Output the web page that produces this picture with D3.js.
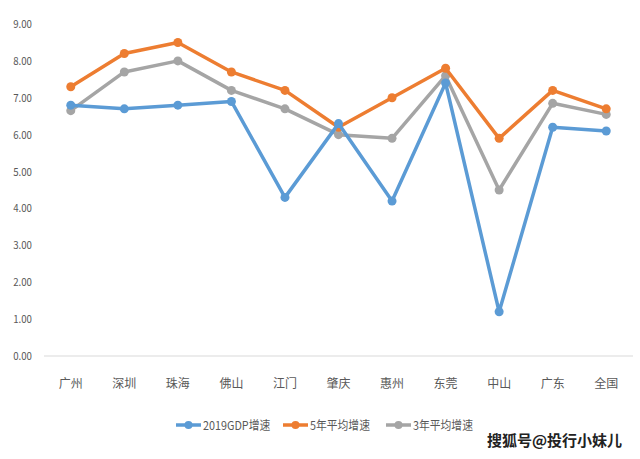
<html>
<head>
<style>
  body { margin: 0; background: #fff; }
  text { font-family: "Noto Sans CJK SC", "Liberation Sans", sans-serif; }
</style>
</head>
<body>
<script src="https://d3js.org/d3.v7.min.js"></script>
<script>
// categories and series
var cities = ["广州","深圳","珠海","佛山","江门","肇庆","惠州","东莞","中山","广东","全国"];
var gdp2019 = [6.8, 6.7, 6.8, 6.9, 4.3, 6.3, 4.2, 7.4, 1.2, 6.2, 6.1];
var avg5 = [7.3, 8.2, 8.5, 7.7, 7.2, 6.2, 7.0, 7.8, 5.9, 7.2, 6.7];
var avg3 = [6.65, 7.7, 8.0, 7.2, 6.7, 6.0, 5.9, 7.6, 4.5, 6.85, 6.55];
var seriesNames = ["2019GDP增速", "5年平均增速", "3年平均增速"];
var yTicks = [0, 1, 2, 3, 4, 5, 6, 7, 8, 9];

var width = 640, height = 459;
var colors = ["#5B9BD5", "#ED7D31", "#A5A5A5"];

var svg = d3.select("body").append("svg")
  .attr("width", width).attr("height", height);

// scales
var x = d3.scalePoint().domain(cities).range([44, 633]).padding(0.5);
var y = d3.scaleLinear().domain([0, 9]).range([356, 24]);

// y tick labels (no axis line)
svg.selectAll(".ytick").data(yTicks).enter()
  .append("text")
  .attr("x", 32)
  .attr("y", function(d){ return y(d) + 4; })
  .attr("text-anchor", "end")
  .attr("fill", "#595959")
  .style("font-size", "11px")
  .attr("transform", function(d){ return "translate(" + (32*0.12) + ",0) scale(0.88,1)"; })
  .text(function(d){ return d.toFixed(2); });

// baseline
svg.append("line")
  .attr("x1", 44).attr("x2", 633)
  .attr("y1", y(0)).attr("y2", y(0))
  .attr("stroke", "#d9d9d9").attr("stroke-width", 1.2);

// category labels
svg.selectAll(".xtick").data(cities).enter()
  .append("text")
  .attr("x", function(d){ return x(d); })
  .attr("y", 388)
  .attr("text-anchor", "middle")
  .attr("fill", "#595959")
  .style("font-size", "12px")
  .text(function(d){ return d; });

// lines, gray first so blue is on top
var series = [gdp2019, avg5, avg3];
var order = [2, 1, 0];
var line = d3.line()
  .x(function(d, i){ return x(cities[i]); })
  .y(function(d){ return y(d); });

order.forEach(function(s){
  svg.append("path")
    .datum(series[s])
    .attr("d", line)
    .attr("fill", "none")
    .attr("stroke", colors[s])
    .attr("stroke-width", 3.5)
    .attr("stroke-linejoin", "round");
  svg.selectAll(".dot" + s).data(series[s]).enter()
    .append("circle")
    .attr("cx", function(d, i){ return x(cities[i]); })
    .attr("cy", function(d){ return y(d); })
    .attr("r", 4.5)
    .attr("fill", colors[s]);
});

// legend
var legendX = [176, 283, 386];
seriesNames.forEach(function(name, s){
  var g = svg.append("g").attr("transform", "translate(" + legendX[s] + ",425)");
  g.append("line").attr("x1", 0).attr("x2", 25).attr("y1", 0).attr("y2", 0)
    .attr("stroke", colors[s]).attr("stroke-width", 3.5);
  g.append("circle").attr("cx", 12.5).attr("cy", 0).attr("r", 4).attr("fill", colors[s]);
  g.append("text").attr("x", 27).attr("y", 5)
    .attr("fill", "#595959")
    .style("font-size", "12px")
    .attr("transform", "scale(0.9,1)")
    .attr("x", 27 / 0.9)
    .text(name);
});

// watermark
svg.append("text")
  .attr("x", 487).attr("y", 446)
  .attr("fill", "#222")
  .attr("stroke", "#fff").attr("stroke-width", 2.5)
  .attr("paint-order", "stroke")
  .style("font-size", "15px")
  .style("font-weight", "bold")
  .text("搜狐号@投行小妹儿");
</script>
</body>
</html>
